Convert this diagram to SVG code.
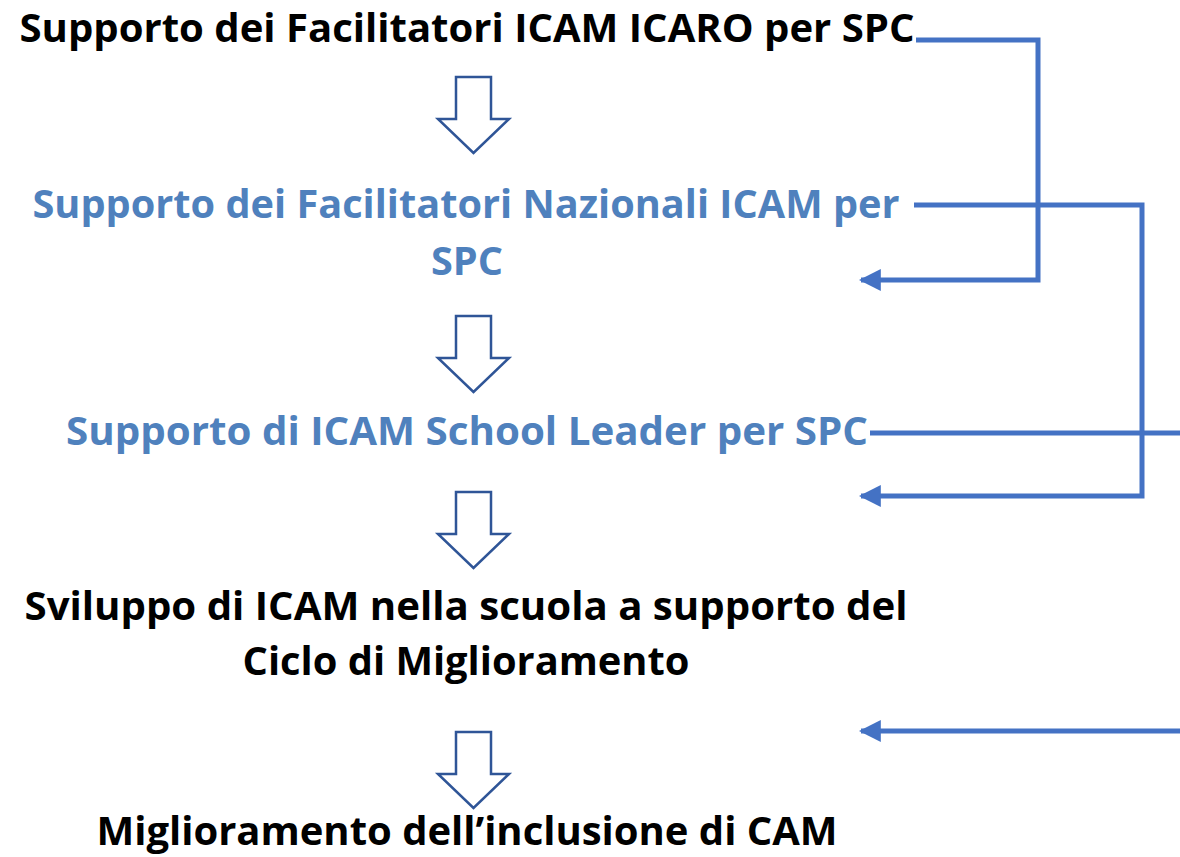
<svg xmlns="http://www.w3.org/2000/svg" width="1180" height="857" viewBox="0 0 1180 857">
<defs>
<style>
.t{font-family:"Open Sans","Liberation Sans",sans-serif;font-weight:bold;font-size:40px;text-anchor:middle}
.k{fill:#000}
.b{fill:#4F81BD}
.ha{fill:#fff;stroke:#2F5597;stroke-width:2.5;stroke-linejoin:miter}
.c{fill:none;stroke:#4472C4;stroke-width:5}
</style>
<marker id="ah" viewBox="0 0 10 10" refX="9" refY="5" markerWidth="4.4" markerHeight="4.4" orient="auto" markerUnits="strokeWidth">
<path d="M0,0 L10,5 L0,10 Z" fill="#4472C4"/>
</marker>
<path id="harrow" d="M0,0 H35 V42 H53 L17.5,76 L-18,42 H0 Z"/>
</defs>
<rect width="1180" height="857" fill="#fff"/>
<g id="n1"><text class="t k" x="467" y="42" textLength="895" lengthAdjust="spacingAndGlyphs">Supporto dei Facilitatori ICAM ICARO per SPC</text></g>
<g id="n2"><text class="t b" x="466" y="218" textLength="867" lengthAdjust="spacingAndGlyphs">Supporto dei Facilitatori Nazionali ICAM per</text><text class="t b" x="467" y="275" textLength="72" lengthAdjust="spacingAndGlyphs">SPC</text></g>
<g id="n3"><text class="t b" x="467" y="445" textLength="802" lengthAdjust="spacingAndGlyphs">Supporto di ICAM School Leader per SPC</text></g>
<g id="n4"><text class="t k" x="466" y="620" textLength="883" lengthAdjust="spacingAndGlyphs">Sviluppo di ICAM nella scuola a supporto del</text><text class="t k" x="466" y="675" textLength="447" lengthAdjust="spacingAndGlyphs">Ciclo di Miglioramento</text></g>
<g id="n5"><text class="t k" x="467" y="845" textLength="741" lengthAdjust="spacingAndGlyphs">Miglioramento dell’inclusione di CAM</text></g>
<g id="flow">
<use href="#harrow" class="ha" x="456" y="77"/>
<use href="#harrow" class="ha" x="456" y="316"/>
<use href="#harrow" class="ha" x="456" y="492"/>
<use href="#harrow" class="ha" x="456" y="732"/>
</g>
<g id="connectors">
<path class="c" d="M916,40 H1038 V280 H861" marker-end="url(#ah)"/>
<path class="c" d="M914,205 H1142 V496 H861" marker-end="url(#ah)"/>
<path class="c" d="M870,433 H1180"/>
<path class="c" d="M1180,731 H861" marker-end="url(#ah)"/>
</g>
</svg>
